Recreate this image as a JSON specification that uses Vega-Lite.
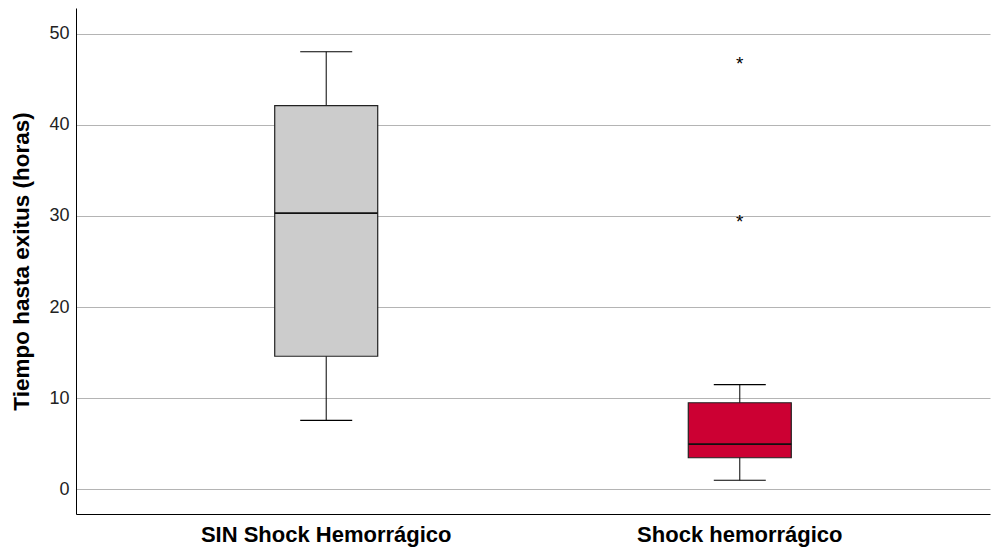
{
  "$schema": "https://vega.github.io/schema/vega-lite/v6.json",
  "autosize": {"type": "none"},
  "width": 914,
  "height": 506,
  "padding": {"left": 76, "top": 8, "right": 6, "bottom": 41},
  "background": "white",
  "config": {
    "view": {"stroke": null},
    "font": "Liberation Sans",
    "axis": {"labelFont": "Liberation Sans", "titleFont": "Liberation Sans"}
  },
  "datasets": {
    "boxes": [
      {"grupo": "SIN Shock Hemorrágico", "lower": 7.57, "q1": 14.6, "median": 30.3, "q3": 42.1, "upper": 48.0},
      {"grupo": "Shock hemorrágico", "lower": 1.0, "q1": 3.47, "median": 4.97, "q3": 9.5, "upper": 11.48}
    ],
    "outliers": [
      {"grupo": "Shock hemorrágico", "valor": 46.9},
      {"grupo": "Shock hemorrágico", "valor": 29.5}
    ]
  },
  "encoding": {
    "x": {
      "field": "grupo",
      "type": "nominal",
      "sort": ["SIN Shock Hemorrágico", "Shock hemorrágico"],
      "scale": {"paddingInner": 0, "paddingOuter": 0.105},
      "axis": {
        "title": null,
        "labelAngle": 0,
        "labelFontSize": 22,
        "labelFontWeight": "bold",
        "labelColor": "#000000",
        "labelLimit": 500,
        "labelPadding": 10,
        "ticks": false,
        "domainColor": "#000000",
        "domainWidth": 1,
        "grid": false
      }
    }
  },
  "layer": [
    {
      "data": {"name": "boxes"},
      "mark": {"type": "rule", "color": "#000000", "strokeWidth": 1},
      "encoding": {
        "y": {
          "field": "lower",
          "type": "quantitative",
          "scale": {"domain": [-2.7, 52.8], "nice": false, "zero": false},
          "axis": {
            "title": "Tiempo hasta exitus (horas)",
            "titleFontSize": 22.5,
            "titleFontWeight": "bold",
            "titleColor": "#000000",
            "titlePadding": 15,
            "values": [0, 10, 20, 30, 40, 50],
            "labelFontSize": 18,
            "labelColor": "#222222",
            "labelPadding": 7,
            "ticks": false,
            "grid": true,
            "gridColor": "#b4b4b4",
            "gridWidth": 1,
            "domainColor": "#000000",
            "domainWidth": 1
          }
        },
        "y2": {"field": "upper"}
      }
    },
    {
      "data": {"name": "boxes"},
      "mark": {"type": "bar", "size": 103, "stroke": "#222222", "strokeWidth": 1.2},
      "encoding": {
        "y": {"field": "q1", "type": "quantitative"},
        "y2": {"field": "q3"},
        "fill": {
          "field": "grupo",
          "type": "nominal",
          "scale": {"domain": ["SIN Shock Hemorrágico", "Shock hemorrágico"], "range": ["#cccccc", "#cc0033"]},
          "legend": null
        }
      }
    },
    {
      "data": {"name": "boxes"},
      "mark": {"type": "tick", "size": 103, "thickness": 1.8, "color": "#111111", "opacity": 1},
      "encoding": {"y": {"field": "median", "type": "quantitative"}}
    },
    {
      "data": {"name": "boxes"},
      "mark": {"type": "tick", "size": 52, "thickness": 1.2, "color": "#000000", "opacity": 1},
      "encoding": {"y": {"field": "upper", "type": "quantitative"}}
    },
    {
      "data": {"name": "boxes"},
      "mark": {"type": "tick", "size": 52, "thickness": 1.2, "color": "#000000", "opacity": 1},
      "encoding": {"y": {"field": "lower", "type": "quantitative"}}
    },
    {
      "data": {"name": "outliers"},
      "mark": {"type": "text", "text": "*", "fontSize": 19, "color": "#000000", "baseline": "middle", "dy": 2},
      "encoding": {"y": {"field": "valor", "type": "quantitative"}}
    }
  ]
}
